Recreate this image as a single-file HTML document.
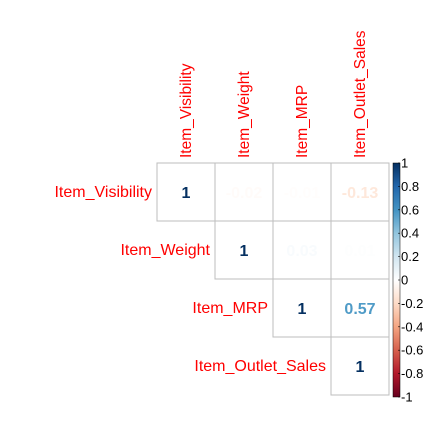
<!DOCTYPE html>
<html><head><meta charset="utf-8"><style>
body{margin:0;background:#fff;}
svg{display:block;font-family:"Liberation Sans",Arial,sans-serif;}
</style></head><body>
<svg id="chart" width="425" height="438"></svg>
<script>
const variables=["Item_Visibility","Item_Weight","Item_MRP","Item_Outlet_Sales"];
const corrValues=[[1,-0.02,-0.01,-0.13],[-0.02,1,0.03,0.01],[-0.01,0.03,1,0.57],[-0.13,0.01,0.57,1]];
const colorbarTicks=[1,0.8,0.6,0.4,0.2,0,-0.2,-0.4,-0.6,-0.8,-1];
const palette=["#67001F","#B2182B","#D6604D","#F4A582","#FDDBC7","#FFFFFF","#D1E5F0","#92C5DE","#4393C3","#2166AC","#053061"];

const NS="http://www.w3.org/2000/svg";
const svg=document.getElementById('chart');
const x0=157,y0=163,cell=58;
const cbX=393,cbW=7,cbTop=163,cbBot=397;
function mk(t,a){const e=document.createElementNS(NS,t);for(const k in a)e.setAttribute(k,a[k]);svg.appendChild(e);return e;}
function hex(h){return [1,3,5].map(i=>parseInt(h.substr(i,2),16));}
function colorOf(v){const p=(v+1)/2*(palette.length-1);const i=Math.min(Math.floor(p),palette.length-2);const f=p-i;
 const a=hex(palette[i]),b=hex(palette[i+1]);return 'rgb('+a.map((c,k)=>Math.round(c+(b[k]-c)*f)).join(',')+')';}
function cbY(v){return cbTop+(1-v)/2*(cbBot-cbTop);}

const n=variables.length;
for(let i=0;i<n;i++){
 for(let j=i;j<n;j++){
  const r=mk('rect',{x:x0+j*cell,y:y0+i*cell,width:cell,height:cell,fill:'#fff',stroke:'#bdbdbd','stroke-width':1});
  
  
  const v=corrValues[i][j];
  const t=mk('text',{x:x0+j*cell+cell/2,y:y0+i*cell+cell/2+6,'text-anchor':'middle','font-size':16,'font-weight':'bold',fill:colorOf(v)});
  t.textContent=String(v);
  
  
 }
 const rl=mk('text',{x:x0+i*cell-5,y:y0+i*cell+cell/2+5,'text-anchor':'end','font-size':16,fill:'#ff0000'});
 rl.textContent=variables[i];
 
 
 const cx=x0+i*cell+cell/2+5,cy=y0-5;
 const cl=mk('text',{x:cx,y:cy,transform:'rotate(-90 '+cx+' '+cy+')','font-size':15.5,fill:'#ff0000'});
 cl.textContent=variables[i];
 
 
}
const defs=mk('defs',{});
const g=document.createElementNS(NS,'linearGradient');g.setAttribute('id','cbg');g.setAttribute('x1',0);g.setAttribute('y1',1);g.setAttribute('x2',0);g.setAttribute('y2',0);
defs.appendChild(g);
palette.forEach((c,i)=>{const s=document.createElementNS(NS,'stop');s.setAttribute('offset',i/(palette.length-1));s.setAttribute('stop-color',c);g.appendChild(s);});
const cb=mk('rect',{x:cbX,y:cbTop,width:cbW,height:cbBot-cbTop,fill:'url(#cbg)',stroke:'#000','stroke-width':0.5});


colorbarTicks.forEach((v,i)=>{
 const y=cbY(v);
 mk('line',{x1:cbX+cbW-2,x2:cbX+cbW,y1:y,y2:y,stroke:'#000','stroke-width':0.6});
 const t=mk('text',{x:cbX+cbW+1,y:y+4.5,'font-size':13,fill:'#000'});
 t.textContent=String(v);
 
 
});
</script>
</body></html>
